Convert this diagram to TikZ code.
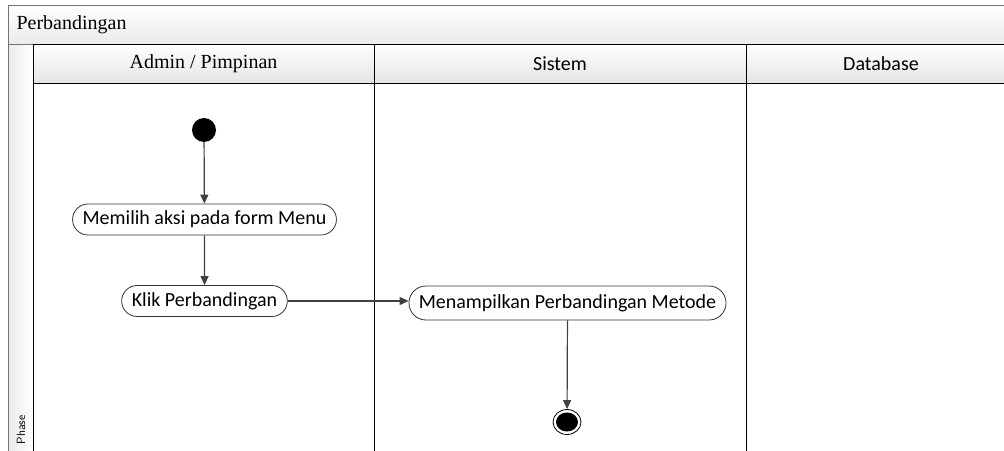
\documentclass[tikz,border=0pt]{standalone}
\usepackage{fontspec}
\setmainfont{Liberation Serif}
\newfontfamily\calib{Carlito}
\usetikzlibrary{arrows.meta,shapes.misc,shapes.geometric}
\begin{document}
\begin{tikzpicture}[x=1pt,y=-1pt,
  act/.style={draw=black!80,fill=white,rounded rectangle,font=\calib\fontsize{20}{24}\selectfont,minimum height=31pt,inner xsep=7.5pt,line width=0.8pt},
  flow/.style={draw=black!75,line width=1.2pt,-{Triangle[length=9pt,width=8pt]}},
  lane/.style={draw=black,line width=0.9pt},
  hdr/.style={top color=white,bottom color=black!10,draw=black,line width=0.9pt}]
\useasboundingbox (0,0) rectangle (1004,450);
% title bar
\path[top color=white,bottom color=black!8,draw=black!55,line width=0.9pt] (8,5) rectangle (1010,44);
\node[anchor=west,font=\fontsize{20}{24}\selectfont] (title) at (13,25) {Perbandingan};
% phase column
\path[left color=black!8,right color=white,draw=black!55,line width=0.9pt] (8,44) rectangle (33,455);
\node[rotate=90,anchor=west,font=\sffamily\fontsize{12}{14}\selectfont] (phase) at (21,448) {Phase};
% lane headers
\path[hdr] (33,44) rectangle (374,83);
\path[hdr] (374,44) rectangle (746,83);
\path[hdr] (746,44) rectangle (1010,83);
\node[font=\fontsize{20}{24}\selectfont] (h1) at (203.5,64) {Admin / Pimpinan};
\node[font=\calib\fontsize{20}{24}\selectfont] (h2) at (560,64) {Sistem};
\node[font=\calib\fontsize{20}{24}\selectfont] (h3) at (881,64) {Database};
% lane lines
\draw[lane] (33,83) -- (33,455);
\draw[lane] (374,83) -- (374,455);
\draw[lane] (746,83) -- (746,455);
% nodes
\node[circle,fill=black,minimum size=24pt,inner sep=0pt] (start) at (204,130) {};
\node[act] (memilih) at (204.5,219.5) {Memilih aksi pada form Menu};
\node[act] (klik) at (204.5,301) {Klik Perbandingan};
\node[act,minimum height=34pt] (tampil) at (567.5,303) {Menampilkan Perbandingan Metode};
\node[ellipse,draw=black,line width=0.8pt,minimum width=28pt,minimum height=25pt,inner sep=0pt] (endo) at (567,422) {};
\node[ellipse,fill=black,minimum width=22pt,minimum height=19pt,inner sep=0pt] (endi) at (567,422) {};
% flows
\draw[flow] (start) -- (memilih);
\draw[flow] (memilih) -- (klik);
\draw[flow] (klik.east) -- (tampil.west |- klik.east);
\draw[flow] (tampil) -- (endo);
\end{tikzpicture}
\end{document}
